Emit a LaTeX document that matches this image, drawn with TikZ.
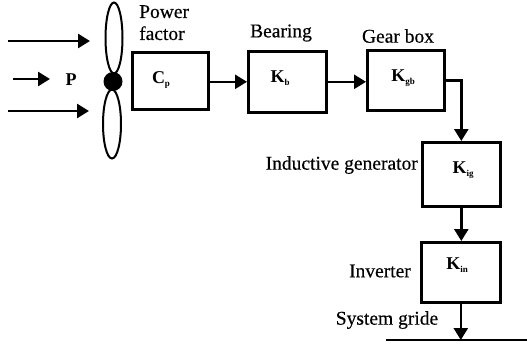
\documentclass[tikz,border=0pt]{standalone}
\usepackage{fontspec}
\setmainfont{Liberation Serif}
\newfontfamily\heavyfont[FakeBold=0.35]{Liberation Serif}
\usetikzlibrary{arrows.meta,shapes.geometric}
\newcommand{\subtxt}[1]{\raisebox{-3pt}{\fontsize{9}{9}\selectfont #1}}
\begin{document}
\begin{tikzpicture}[x=1pt,y=-1pt,
  blockbox/.style={draw,line width=2.6pt,inner sep=0pt,anchor=north west},
  lbl/.style={font=\heavyfont\fontsize{19.5}{22}\selectfont,inner sep=0pt,text=black},
  sym/.style={font=\fontsize{18}{20}\selectfont\bfseries,inner sep=0pt},
  flow/.style={line width=2.6pt,-{Triangle[length=12pt,width=14pt]}},
  blade/.style={draw,line width=2pt}]
\useasboundingbox (0,0) rectangle (527,348);
\node[blockbox,minimum width=76pt,minimum height=57pt] (cp) at (131,51) {};
\node[blockbox,minimum width=78pt,minimum height=61pt] (kb) at (247,50) {};
\node[blockbox,minimum width=77pt,minimum height=60pt] (kgb) at (366,49) {};
\node[blockbox,minimum width=78pt,minimum height=64pt] (kig) at (421,141) {};
\node[blockbox,minimum width=79pt,minimum height=60pt] (kin) at (420,241) {};
\node[sym] at (161,80) {C\subtxt{p}};
\node[sym] at (280,78) {K\subtxt{b}};
\node[sym] at (403,78) {K\subtxt{gb}};
\node[sym] at (463,170) {K\subtxt{ig}};
\node[sym] at (457,265) {K\subtxt{in}};
\node[lbl,align=left,anchor=north west] (pf) at (139,5) {Power\\factor};
\node[lbl] (br) at (281,33) {Bearing};
\node[lbl] (gb) at (398,36) {Gear box};
\node[lbl,anchor=east] (ig) at (418,165) {Inductive generator};
\node[lbl,anchor=east] (iv) at (411,271) {Inverter};
\node[lbl] (sg) at (387,320) {System gride};
\node[sym] (p) at (71,80) {P};
\node[blade,ellipse,minimum width=17pt,minimum height=71pt,inner sep=0pt] (b1) at (114,38) {};
\node[blade,ellipse,minimum width=18pt,minimum height=69pt,inner sep=0pt] (b2) at (112,124) {};
\node[circle,fill=black,minimum size=19pt,inner sep=0pt] (hub) at (113,81.5) {};
\coordinate (w1a) at (8,41); \coordinate (w1b) at (90,41);
\coordinate (w2a) at (13,79); \coordinate (w2b) at (50,79);
\coordinate (w3a) at (8,111); \coordinate (w3b) at (89,111);
\coordinate (g1) at (386,340); \coordinate (g2) at (527,340);
\draw[flow] (w1a) -- (w1b);
\draw[flow] (w2a) -- (w2b);
\draw[flow] (w3a) -- (w3b);
\draw[flow] (cp.east |- kb.west) -- (kb.west);
\draw[flow] (kb.east) -- (kb.east -| kgb.west);
\draw[flow] (kgb.east) -| (kig.north);
\draw[flow] (kig.south) -- (kig.south |- kin.north);
\draw[line width=2.6pt] (g1) -- (g2);
\coordinate (gt) at (kin.south |- g1);
\draw[flow] (kin.south) -- (gt);
\end{tikzpicture}
\end{document}
